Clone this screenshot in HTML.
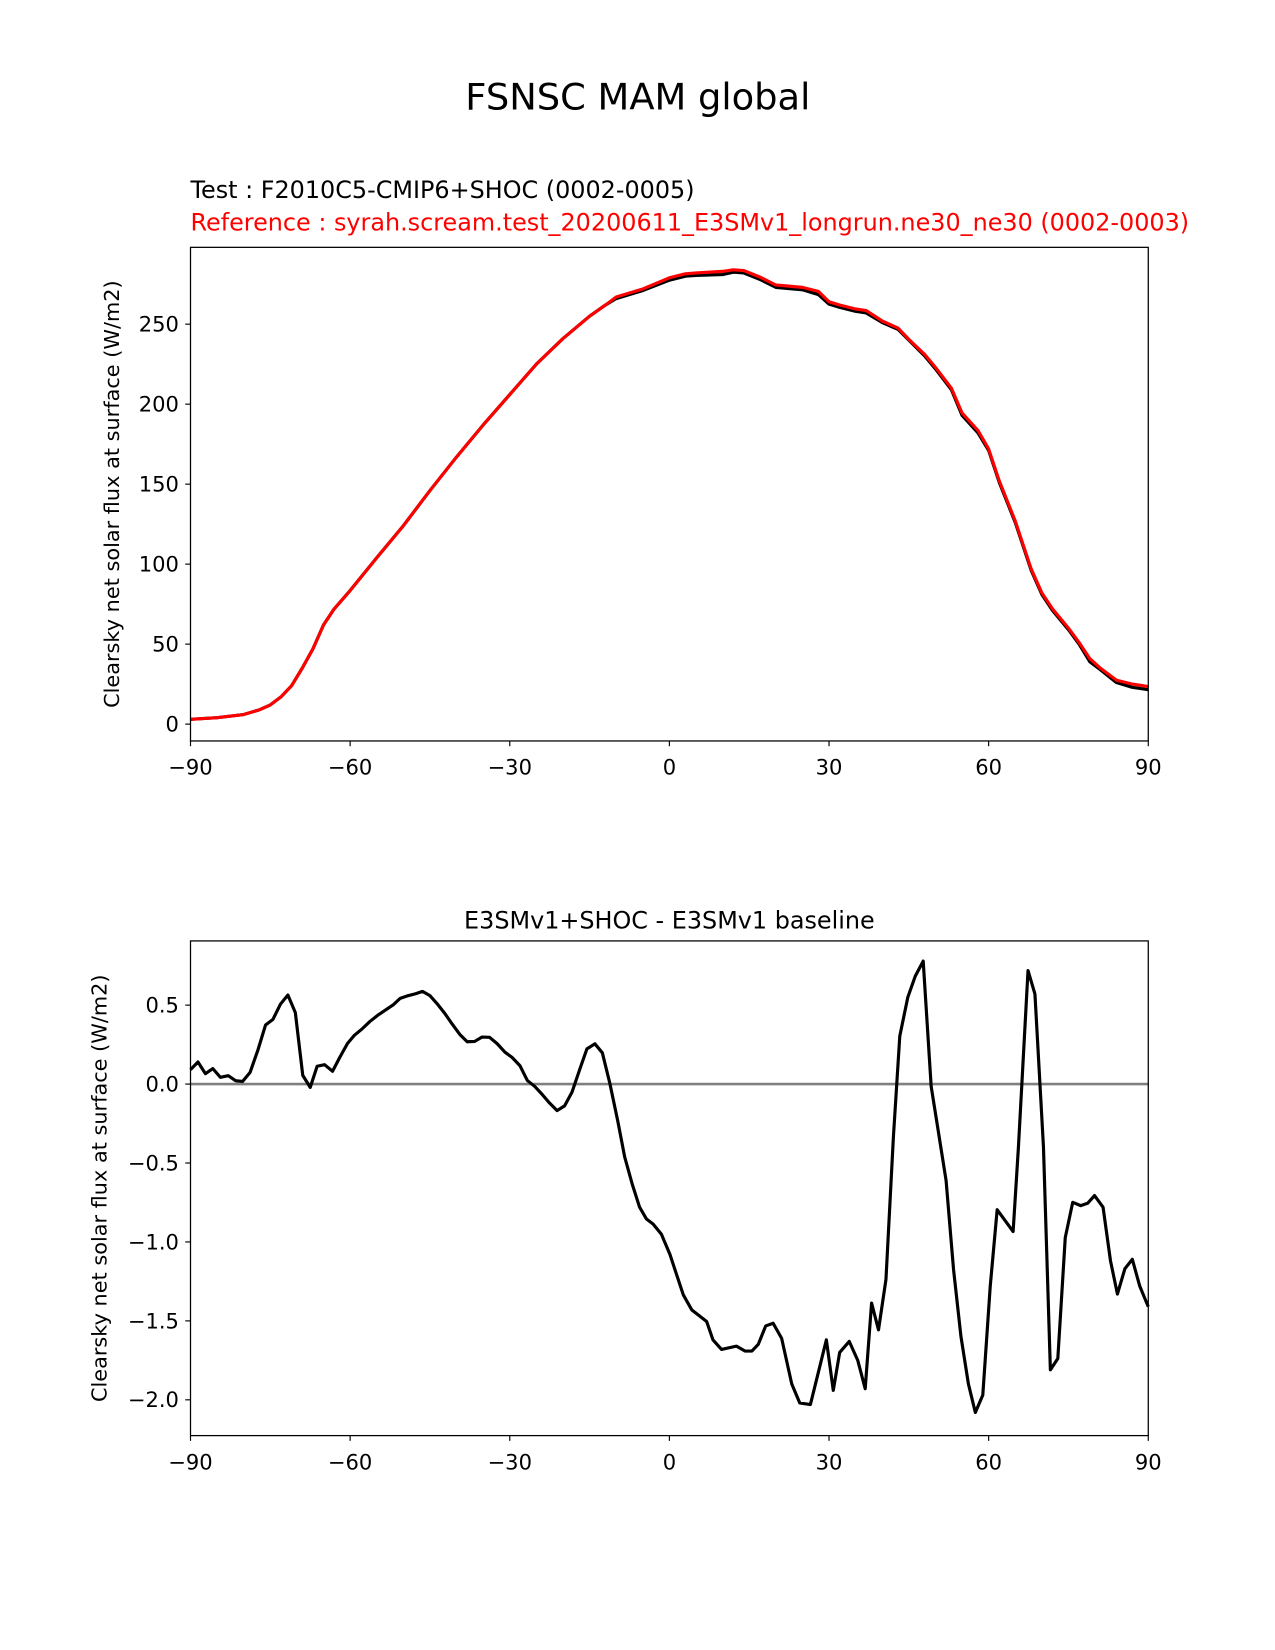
<!DOCTYPE html>
<html><head><meta charset="utf-8"><style>
html,body{margin:0;padding:0;background:#fff;}
svg{display:block;font-family:"DejaVu Sans","Liberation Sans",sans-serif;}
</style></head><body>
<svg id="fig" width="1275" height="1650" viewBox="0 0 1211.4 1567.7" xmlns="http://www.w3.org/2000/svg">
<rect width="1211.4" height="1567.7" fill="#fff"/>
<text x="606" y="104" font-size="35" text-anchor="middle">FSNSC MAM global</text>
<text x="181" y="188" font-size="22.7">Test : F2010C5-CMIP6+SHOC (0002-0005)</text>
<text x="181" y="219" font-size="22.7" fill="#ff0000">Reference : syrah.scream.test_20200611_E3SMv1_longrun.ne30_ne30 (0002-0003)</text>
<text x="636" y="882" font-size="22.7" text-anchor="middle">E3SMv1+SHOC - E3SMv1 baseline</text>
<g id="top"></g>
<g id="bot"></g>
</svg>
<script>
const xTicks = [-90, -60, -30, 0, 30, 60, 90];
const topYTicks = [0, 50, 100, 150, 200, 250];
const botYTicks = [0.5, 0.0, -0.5, -1.0, -1.5, -2.0];
const botYTickLabels = ["0.5", "0.0", "\u22120.5", "\u22121.0", "\u22121.5", "\u22122.0"];

const topLon = [-90,-85,-80,-77,-75,-73,-71,-69,-67,-65,-63,-60,-55,-50,-45,-40,-35,-30,-25,-20,-15,-12,-10,-5,0,3,5,10,12,14,17,20,25,28,30,32,35,37,40,43,45,48,50,53,55,58,60,62,65,68,70,72,75,77,79,81,84,87,90];
const testVals = [3,4,6,9,12,17,24,35,47,62,72,83.5,104,124,146,167,187,206,225,241,255,262,266,271,277.5,280,280.5,281,282.5,282,278,273,271.5,268.5,262.5,260.5,258,257,251,246.7,240,230,222,209,193,182,171,151,126,96,81,71,59,50,39,34,26,23,21.5];
const refVals = [3,4,6,9,12,17,24,35,47,62,72,83.5,104,124,146,167,187,206,225,241,255,262,267,272,279,281.5,282,283,284,283.5,279.5,274.5,273,270.5,264,262,259.5,258.5,252,247.5,240.5,231,223,210,194.5,183.5,172,152,127,97,82,72,60,51,41,35,27.5,25,23.5];

const diffLon = [-90,-88.6,-87.2,-85.8,-84.4,-82.9,-81.5,-80.2,-78.8,-77.3,-75.9,-74.5,-73.1,-71.7,-70.3,-68.9,-67.5,-66.2,-64.8,-63.3,-62.0,-60.5,-59.2,-57.7,-56.3,-54.8,-53.4,-51.9,-50.6,-49.1,-47.7,-46.4,-45.0,-43.7,-42.2,-40.8,-39.4,-38.0,-36.6,-35.2,-33.8,-32.4,-30.9,-29.6,-28.1,-26.7,-25.3,-23.9,-22.5,-21.1,-19.7,-18.3,-16.8,-15.5,-14.0,-12.6,-11.2,-9.7,-8.4,-7.0,-5.6,-4.3,-3.05,-1.5,0.1,2.6,4.2,7.0,8.2,9.8,12.6,14.2,15.5,16.7,18.1,19.5,21.1,23.0,24.5,26.5,29.5,30.8,32.0,33.8,35.4,36.8,38.0,39.3,40.7,42.1,43.3,44.8,46.2,47.7,49.2,50.5,52.0,53.4,54.8,56.2,57.5,58.9,60.3,61.6,64.6,65.6,67.4,68.7,70.3,71.6,73.0,74.4,75.8,77.3,78.6,79.9,81.5,82.9,84.2,85.6,87.0,88.4,90];
const diffVals = [0.091,0.14,0.066,0.098,0.043,0.053,0.021,0.017,0.074,0.219,0.374,0.41,0.506,0.564,0.453,0.055,-0.021,0.113,0.123,0.081,0.166,0.257,0.309,0.351,0.396,0.436,0.468,0.502,0.543,0.56,0.572,0.587,0.56,0.511,0.447,0.379,0.315,0.268,0.27,0.298,0.296,0.257,0.202,0.17,0.117,0.023,-0.015,-0.066,-0.121,-0.168,-0.138,-0.051,0.098,0.223,0.255,0.198,0.006,-0.234,-0.462,-0.632,-0.78,-0.855,-0.887,-0.951,-1.079,-1.334,-1.43,-1.504,-1.621,-1.681,-1.66,-1.691,-1.691,-1.649,-1.532,-1.515,-1.611,-1.9,-2.02,-2.03,-1.62,-1.94,-1.7,-1.63,-1.75,-1.93,-1.387,-1.557,-1.238,-0.334,0.304,0.549,0.683,0.779,-0.015,-0.291,-0.611,-1.174,-1.6,-1.9,-2.08,-1.97,-1.28,-0.796,-0.934,-0.398,0.719,0.57,-0.398,-1.81,-1.738,-0.972,-0.749,-0.77,-0.755,-0.706,-0.78,-1.12,-1.33,-1.17,-1.11,-1.28,-1.41];

const NS = "http://www.w3.org/2000/svg";
function mk(parent, tag, attrs, txt) {
  const e = document.createElementNS(NS, tag);
  for (const k in attrs) e.setAttribute(k, attrs[k]);
  if (txt !== undefined) e.textContent = txt;
  parent.appendChild(e);
  return e;
}
const L = 181, R = 1091;
const xS = lon => L + (lon + 90) / 180 * (R - L);

function axes(g, top, bot, yS, yTicks, yLabels, ylabelX, ylabel) {
  for (let i = 0; i < xTicks.length; i++) {
    const x = xS(xTicks[i]);
    const t = mk(g, "line", {x1: x, x2: x, y1: bot, y2: bot + 5, stroke: "#000", "stroke-width": 1.1});
    
    
    const lb = mk(g, "text", {x: x, y: bot + 32, "font-size": 20, "text-anchor": "middle"}, xTicks[i] < 0 ? "\u2212" + (-xTicks[i]) : String(xTicks[i]));
    
    
  }
  for (let i = 0; i < yTicks.length; i++) {
    const y = yS(yTicks[i]);
    const t = mk(g, "line", {x1: L - 5, x2: L, y1: y, y2: y, stroke: "#000", "stroke-width": 1.1});
    
    
    const lb = mk(g, "text", {x: L - 11, y: y + 7, "font-size": 20, "text-anchor": "end"}, yLabels[i]);
    
    
  }
  const yl = mk(g, "text", {x: 0, y: 0, "font-size": 19.8, "text-anchor": "middle", transform: "translate(" + ylabelX + "," + ((top + bot) / 2) + ") rotate(-90)"}, ylabel);
  
  
}
function frame(g, top, bot) {
  const f = mk(g, "rect", {x: L, y: top, width: R - L, height: bot - top, fill: "none", stroke: "#000", "stroke-width": 1.2});
  
  
}
function line(g, xs, ys, yS, color, name, w) {
  const d = xs.map((v, i) => (i ? "L" : "M") + xS(v).toFixed(2) + "," + yS(ys[i]).toFixed(2)).join("");
  const p = mk(g, "path", {d: d, fill: "none", stroke: color, "stroke-width": w, "stroke-linejoin": "round"});
  
  
}

const tTop = 235, tBot = 704;
const yTop = v => 688 - v * (688 - 308) / 250;
const gt = document.getElementById("top");
axes(gt, tTop, tBot, yTop, topYTicks, topYTicks.map(String), 113, "Clearsky net solar flux at surface (W/m2)");
line(gt, topLon, testVals, yTop, "#000", "test-series-line", 3);
line(gt, topLon, refVals, yTop, "#ff0000", "reference-series-line", 3);
frame(gt, tTop, tBot);

const bTop = 894, bBot = 1364;
const yBot = v => 1030 - v * 150;
const gb = document.getElementById("bot");
axes(gb, bTop, bBot, yBot, botYTicks, botYTickLabels, 101, "Clearsky net solar flux at surface (W/m2)");
const z = mk(gb, "line", {x1: L, x2: R, y1: yBot(0), y2: yBot(0), stroke: "#808080", "stroke-width": 2.5});


line(gb, diffLon, diffVals, yBot, "#000", "difference-line", 3);
frame(gb, bTop, bBot);
</script>
</body></html>
